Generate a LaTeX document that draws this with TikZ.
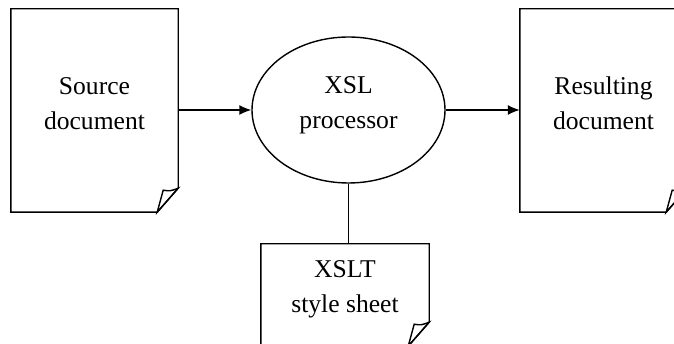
\documentclass[tikz,border=0pt]{standalone}
\usepackage{fontspec}
\setmainfont{Liberation Serif}
\usetikzlibrary{calc,arrows.meta,shapes.geometric,positioning}

% page outline with a turned-up corner at the bottom right
\newcommand{\foldpage}[1]{%
  \draw[page line] (#1.north west) -- (#1.north east)
    -- ($(#1.south east)+(0,24)$) -- ($(#1.south east)+(-21,0)$)
    -- (#1.south west) -- cycle;
  \draw[page line] ($(#1.south east)+(-21,0)$) -- ($(#1.south east)+(-15,22)$)
    .. controls ($(#1.south east)+(-8,21)$) .. ($(#1.south east)+(0,24)$) -- cycle;
}

\tikzset{
  page line/.style={line width=1.4pt, line join=miter},
  doc/.style={minimum width=167pt, minimum height=203pt, align=center,
    inner sep=0pt, text depth=14pt},
  flow/.style={line width=1.4pt, -{Latex[length=12pt,width=10pt]}},
}

\begin{document}
\begin{tikzpicture}[x=1pt,y=1pt,
    every node/.style={font=\fontsize{25.6}{35}\selectfont}]

  \useasboundingbox (0,0) rectangle (674,344);
  \clip (0,0) rectangle (674,344);

  \node[doc] (src) at (94.5,233.5) {Source\\document};
  \node[doc] (res) at (603.5,233.5) {Resulting\\document};
  \node[ellipse, draw, line width=1.4pt, minimum width=193pt,
        minimum height=146pt, align=center, inner sep=0pt, text depth=15pt]
        (proc) at (348.5,234) {XSL\\processor};
  \node[doc, minimum width=168pt, minimum height=102pt,
        text depth=16pt] (xslt) at (345,49) {XSLT\\style sheet};

  \foldpage{src}
  \foldpage{res}
  \foldpage{xslt}

  % connectors
  \draw[flow] (src.east |- proc.west) -- (proc.west);
  \draw[flow] (proc.east) -- (res.west |- proc.east);
  \draw[line width=1.4pt] (proc.south) -- (proc.south |- xslt.north);

\end{tikzpicture}
\end{document}
